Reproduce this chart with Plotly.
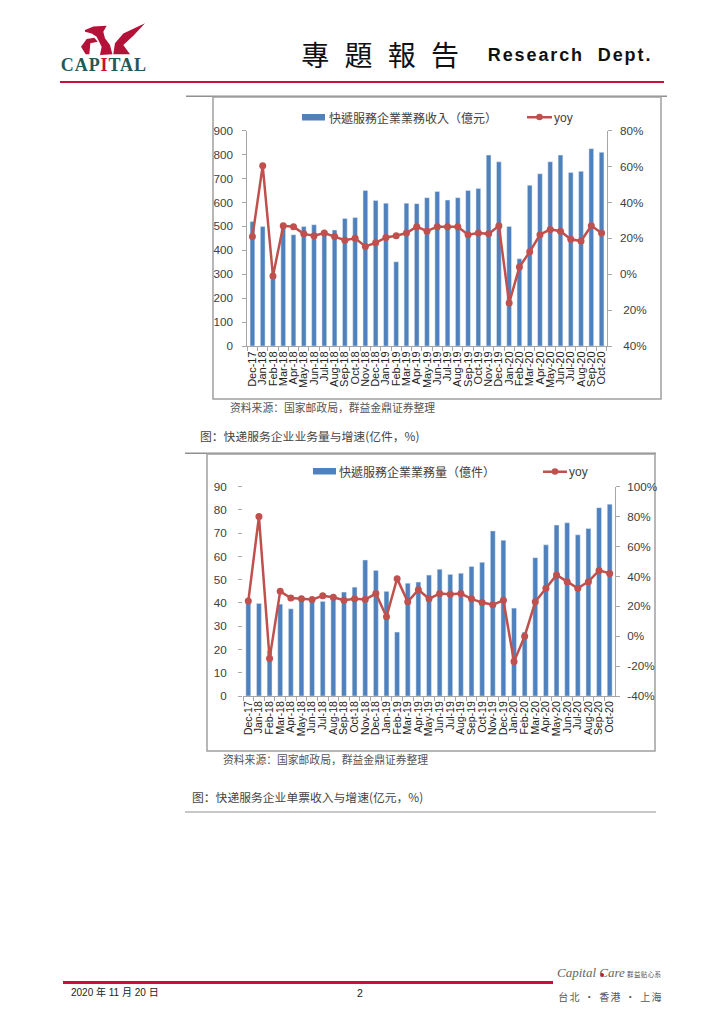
import plotly.graph_objects as go

W, H = 724, 1024
months = ["Dec-17","Jan-18","Feb-18","Mar-18","Apr-18","May-18","Jun-18","Jul-18","Aug-18","Sep-18","Oct-18","Nov-18",
          "Dec-18","Jan-19","Feb-19","Mar-19","Apr-19","May-19","Jun-19","Jul-19","Aug-19","Sep-19","Oct-19","Nov-19",
          "Dec-19","Jan-20","Feb-20","Mar-20","Apr-20","May-20","Jun-20","Jul-20","Aug-20","Sep-20","Oct-20"]
revenue = [520,500,300,500,465,500,507,480,485,533,537,650,608,597,352,597,595,620,646,610,620,650,658,798,770,500,365,672,720,770,798,725,730,825,810]
revenue_yoy = [21,60.5,-1,27,26.5,22.5,21.5,23,21,19,20,15.5,17.5,20.5,21.5,23,26.5,24,26.5,26.5,26.5,22,23,22.5,27,-16,4,12.5,22,25,24,19.5,18.5,27,23]
volume = [40,39.8,19.5,39.5,37.5,43,41.5,40.7,42,44.7,46.8,58.5,54,45,27.5,48.5,49,52,54.5,52.3,52.8,55.7,57.5,71,67,37.8,27.5,59.5,65,73.5,74.5,69.3,72,81,82.5]
volume_yoy = [23.5,80,-15,30,25.5,25,24.5,27,26,24,25,24.5,28.5,13,38.5,23,31,25,28.5,28,28.5,25,22.5,21,24,-17,0,23,32,41,36.5,32,36.5,44,42]

BLUE, RED = "#4F81BD", "#C0504D"
CRIMSON = "#C8103A"
TXT = "#404040"
CJK = "Noto Sans CJK SC"
ARIAL = "Liberation Sans"

def px(x): return x / W
def py(y): return 1 - y / H

fig = go.Figure()
fig.add_bar(x=months, y=revenue, name="快遞服務企業業務收入（億元）", marker_color=BLUE, width=0.46, xaxis="x", yaxis="y")
fig.add_scatter(x=months, y=revenue_yoy, name="yoy", mode="lines+markers", line=dict(color=RED, width=2.5),
                marker=dict(color=RED, size=7), xaxis="x", yaxis="y2")
fig.add_bar(x=months, y=volume, name="快遞服務企業業務量（億件）", marker_color=BLUE, width=0.46, xaxis="x2", yaxis="y3")
fig.add_scatter(x=months, y=volume_yoy, name="yoy", mode="lines+markers", line=dict(color=RED, width=2.5),
                marker=dict(color=RED, size=7), xaxis="x2", yaxis="y4")

tickf = dict(family=ARIAL, size=11.7, color=TXT)
axcol = "#A6A6A6"

def xaxis(dom, anchor, size):
    return dict(domain=dom, anchor=anchor, type="category", tickangle=-90, automargin=False,
                tickfont=dict(family=ARIAL, size=size, color="#222222"), tickmode="array",
                tickvals=months, ticktext=months, tickson="boundaries", ticks="outside", ticklen=4, tickcolor=axcol,
                showline=True, linecolor=axcol, showgrid=False, zeroline=False, range=[-0.5, 34.5])

def yleft(dom, rng, dt, anchor, line, standoff):
    return dict(domain=dom, range=rng, dtick=dt, tickfont=tickf, ticks="outside", ticklen=4, tickcolor=axcol, anchor=anchor,
                showline=line, linecolor=axcol, showgrid=False, zeroline=False, ticklabelstandoff=standoff, automargin=False)

def yright(over, rng, vals, text, anchor, standoff):
    return dict(overlaying=over, side="right", range=rng, tickmode="array", tickvals=vals, ticktext=text, tickfont=tickf,
                ticks="outside", ticklen=4, tickcolor=axcol, showline=True, linecolor=axcol, showgrid=False, anchor=anchor,
                zeroline=False, ticklabelstandoff=standoff, automargin=False)

yoy1_vals = [-40,-20,0,20,40,60,80]
yoy1_text = ["\u00a040%","\u00a020%","0%","20%","40%","60%","80%"]
yoy2_vals = [-40,-20,0,20,40,60,80,100]
yoy2_text = ["-40%","-20%","0%","20%","40%","60%","80%","100%"]

ann = []
def text(x, y, s, size, family=CJK, color=TXT, anchor="left"):
    ann.append(dict(x=px(x), y=py(y), xref="paper", yref="paper", text=s, showarrow=False, xanchor=anchor, yanchor="middle",
                    font=dict(family=family, size=size, color=color), borderpad=0))

text(316, 54, "專 題 報 告", 28, family="Noto Sans CJK TC", color="#111111")
text(501, 55, "<b>Research  Dept.</b>", 18, family=ARIAL, color="#111111")
text(63, 65, "<b>CAP<span style='color:#C8103A'>I</span>TAL</b>", 18, family="Liberation Serif", color="#1F5A58")
text(229, 407, "资料来源：国家邮政局，群益金鼎证券整理", 10.8, color="#555555")
text(199, 435, "图：快递服务企业业务量与增速(亿件，%)", 11.8, color="#444444")
text(222, 759, "资料来源：国家邮政局，群益金鼎证券整理", 10.8, color="#555555")
text(191, 796, "图：快递服务企业单票收入与增速(亿元，%)", 11.8, color="#444444")
text(70, 992, "2020 年 11 月 20 日", 10, family=ARIAL + ", " + CJK, color="#222222")
text(356, 993, "2", 10.5, family=ARIAL, color="#222222")
text(556, 972, "<i>Capital Care</i>", 13, family="Liberation Serif", color="#666666")
text(627, 974, "群益贴心系", 6.5, color="#555555")
text(565, 996, "台北 · 香港 · 上海", 10, color="#555555")
text(328, 117, "快遞服務企業業務收入（億元）", 12, family="Noto Sans CJK TC")
text(553, 118, "yoy", 12, family=ARIAL)
text(338, 471, "快遞服務企業業務量（億件）", 12, family="Noto Sans CJK TC")
text(568, 472, "yoy", 12, family=ARIAL)

def rect(x0, y0, x1, y1, color):
    return dict(type="rect", xref="paper", yref="paper", x0=px(x0), x1=px(x1), y0=py(y0), y1=py(y1),
                fillcolor=color, line_width=0, layer="below")

def frame(x0, y0, x1, y1):
    return dict(type="rect", xref="paper", yref="paper", x0=px(x0), x1=px(x1), y0=py(y0), y1=py(y1),
                fillcolor="rgba(0,0,0,0)", line=dict(color="#A0A0A0", width=1.5), layer="below")

def dot(cx, cy, r, color):
    return dict(type="circle", xref="paper", yref="paper", x0=px(cx - r), x1=px(cx + r), y0=py(cy + r), y1=py(cy - r),
                fillcolor=color, line_width=0)

def logo(points, color="#B5123A"):
    pts = [(55 + a / 3, 15 + b / 3) for a, b in points]
    p = "M " + " L ".join(f"{px(a):.4f},{py(b):.4f}" for a, b in pts) + " Z"
    return dict(type="path", xref="paper", yref="paper", path=p, fillcolor=color, line_width=0)

shapes = [
    rect(60, 81, 664, 83, CRIMSON),
    rect(186, 95.5, 667, 97, "#909090"),
    rect(185, 452.5, 656, 454, "#909090"),
    rect(185, 811.5, 656, 812.5, "#909090"),
    rect(63, 981, 553, 984, CRIMSON),
    frame(213, 97, 661, 399),
    frame(207, 454, 655, 751),
    logo([(90,45),(115,35),(155,32),(145,50),(150,70),(165,90),(172,118),(135,120),(140,95),(125,65),(110,55),(90,50)]),
    logo([(78,95),(95,72),(118,68),(128,80),(106,85),(103,118),(92,118)]),
    logo([(270,25),(235,62),(205,90),(225,118),(175,118),(180,85),(205,55)]),
    dot(602, 975, 2, "#D8102A"),
    rect(302, 114, 325, 120.5, BLUE),
    rect(527, 116, 552, 118.5, RED),
    dot(539.5, 117, 3.3, RED),
    rect(313, 468, 336, 474.5, BLUE),
    rect(543, 470.5, 567, 473, RED),
    dot(555, 471.5, 3.3, RED),
]

fig.update_layout(
    width=W, height=H, margin=dict(l=0, r=0, t=0, b=0, pad=0), autosize=False, paper_bgcolor="white", plot_bgcolor="rgba(0,0,0,0)",
    barmode="overlay", showlegend=False, hovermode=False, font=dict(family=CJK),
    xaxis=xaxis([px(247.3), px(606.7)], "y", 11),
    yaxis=yleft([py(346), py(130.7)], [0, 900], 100, "x", True, 7),
    yaxis2=yright("y", [-40, 80], yoy1_vals, yoy1_text, "x", 6),
    xaxis2=xaxis([px(243), px(615)], "y3", 10.5),
    yaxis3=yleft([py(696), py(486.7)], [0, 90], 10, "x2", False, 9),
    yaxis4=yright("y3", [-40, 100], yoy2_vals, yoy2_text, "x2", 5),
    annotations=ann, shapes=shapes,
)

post = """
document.body.style.margin='0';
var spacing={'Research':1.9,'專':4.5,'CAP':0.9,'台北':1.3,'群益贴':0.4};
document.querySelectorAll('.annotation-text').forEach(function(t){
  for(var k in spacing){ if(t.textContent.indexOf(k)===0){t.style.letterSpacing=spacing[k]+'px';} }
});
"""
fig.write_html("out.html", post_script=post, config={"displayModeBar": False})
